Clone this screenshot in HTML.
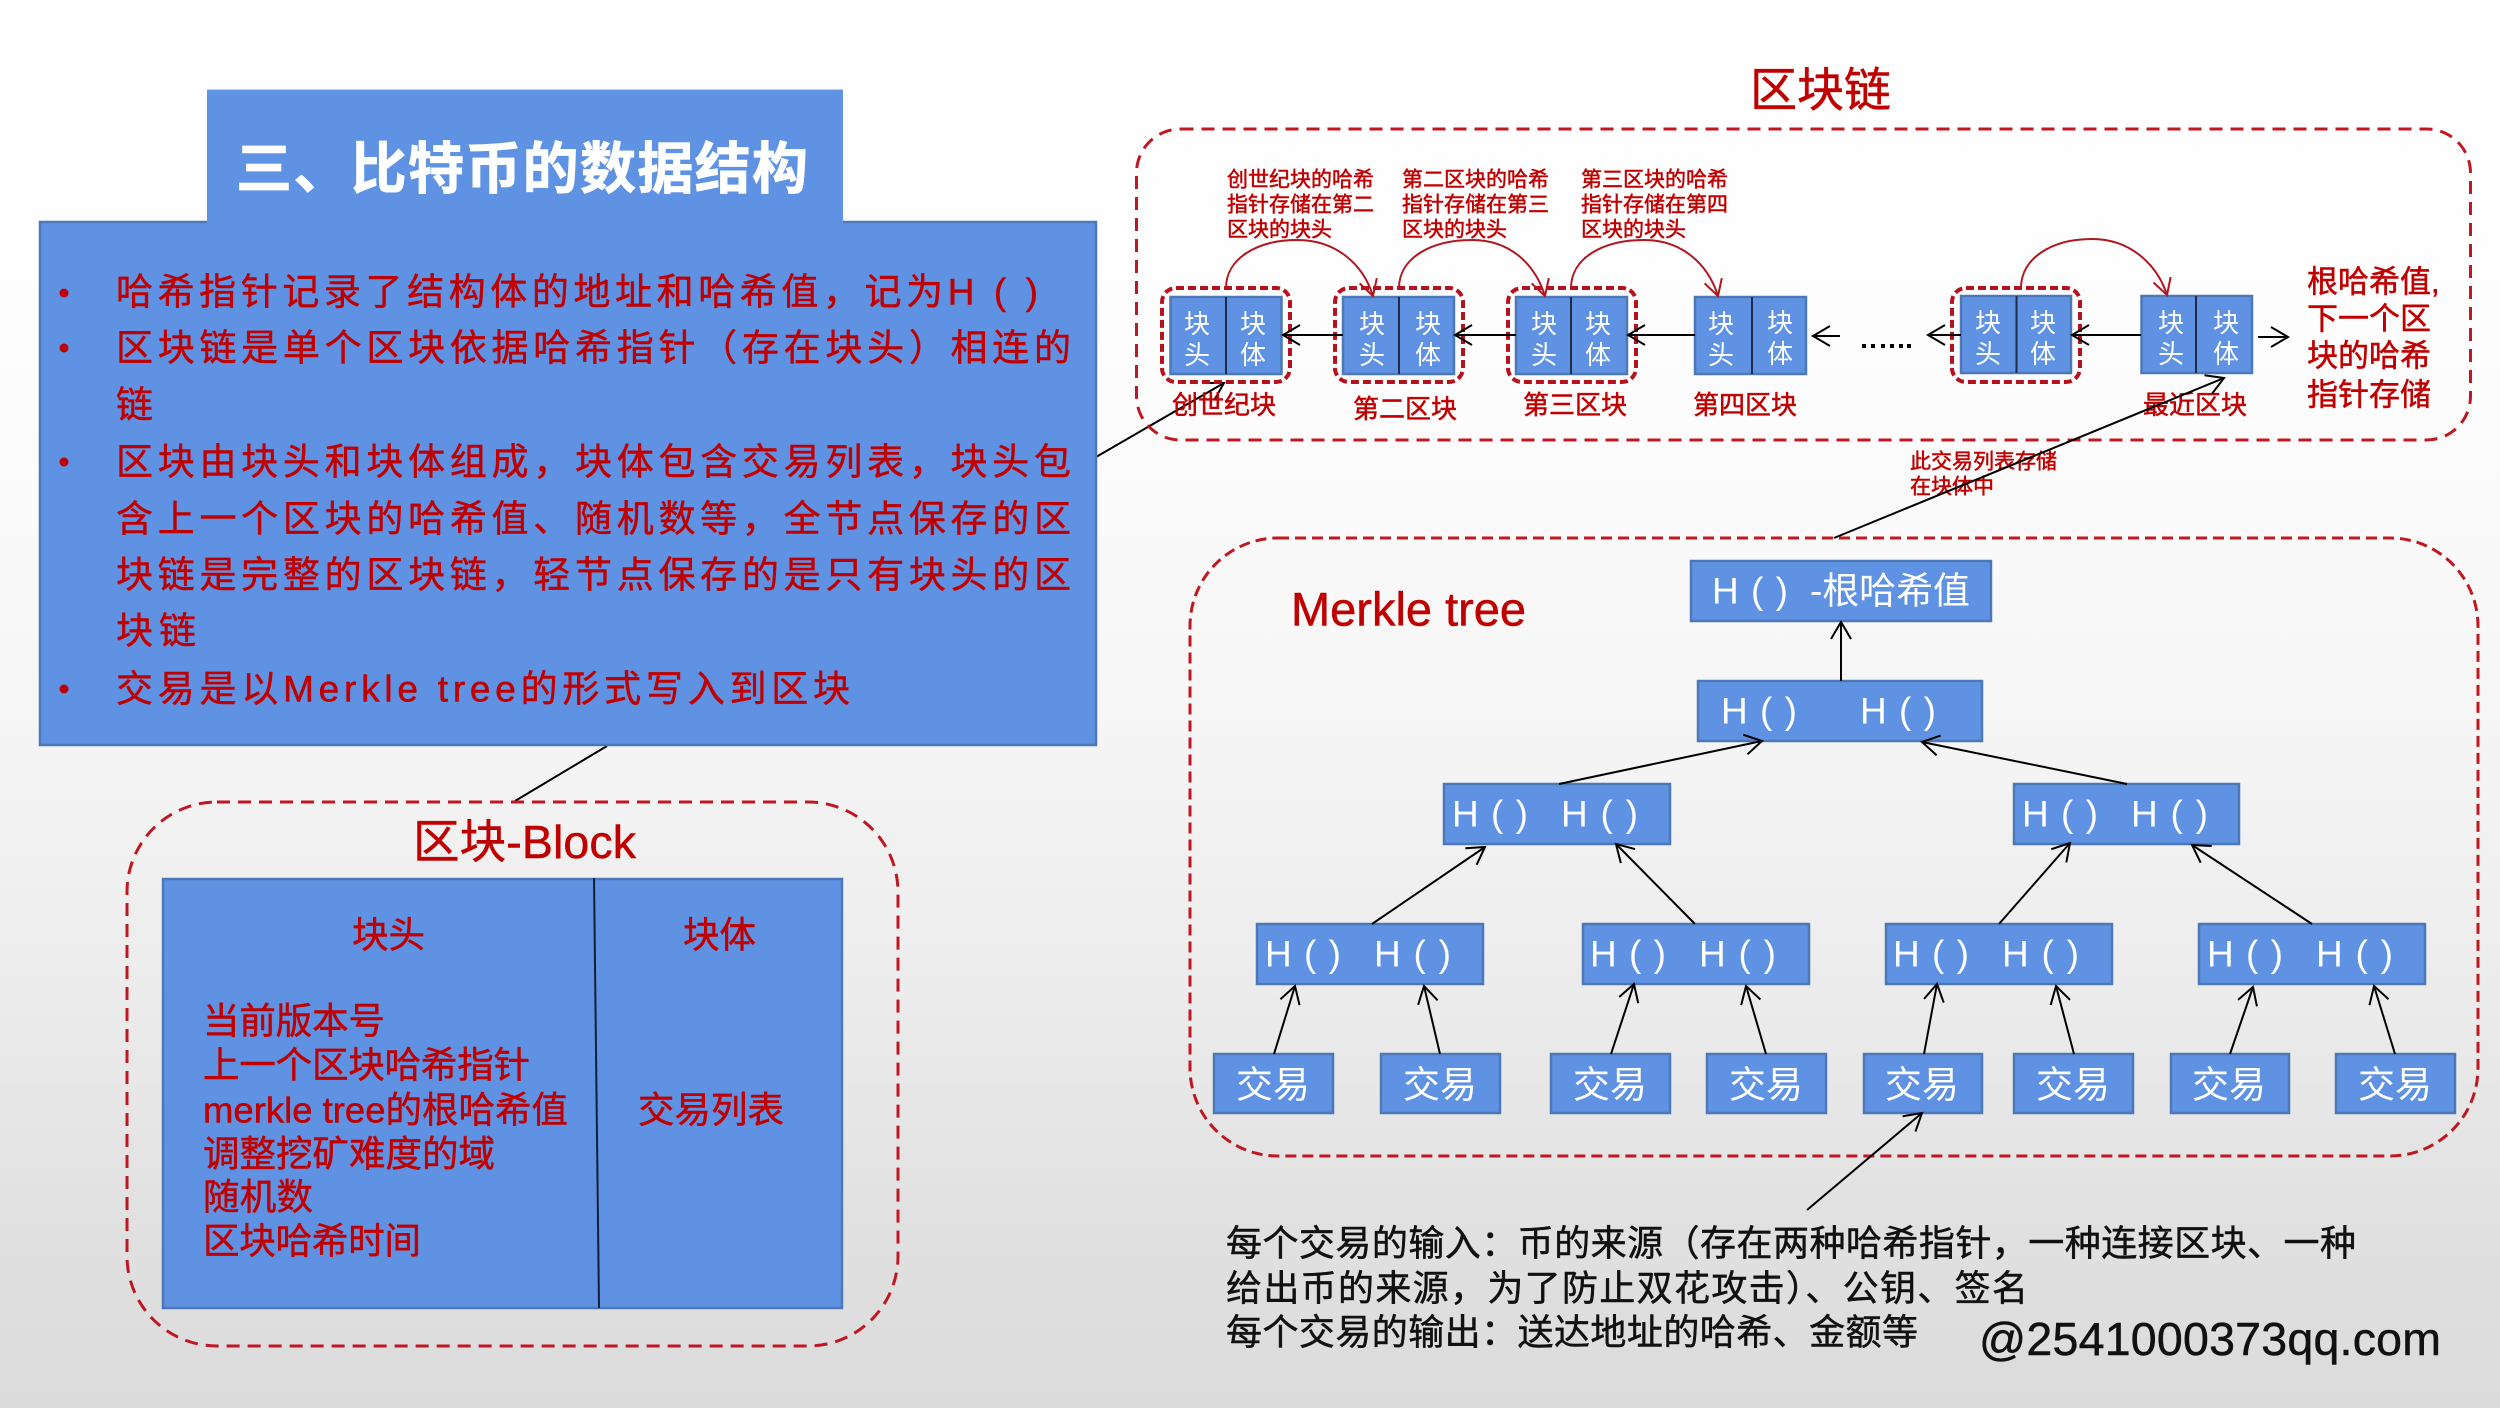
<!DOCTYPE html>
<html lang="zh"><head><meta charset="utf-8"><title>比特币的数据结构</title>
<style>
html,body{margin:0;padding:0;width:2500px;height:1408px;overflow:hidden}
body{background:linear-gradient(180deg,#ffffff 0%,#fdfdfd 25%,#f6f6f6 50%,#ececec 70%,#e0e0e0 88%,#dbdbdb 100%)}
svg{display:block;position:absolute;left:0;top:0}
text{font-family:"Liberation Sans","Noto Sans CJK SC",sans-serif;dominant-baseline:central}
.r{fill:#c00000;stroke:#c00000;stroke-width:.5}
.b{fill:#5f92e3;stroke:#4c78b8;stroke-width:2.5}
.d{fill:none;stroke:#c01823;stroke-width:3;stroke-dasharray:13 8}
.i{fill:none;stroke:#b5121d;stroke-width:4;stroke-dasharray:8 4}
.w{fill:#fff}
.l{stroke:#000;stroke-width:2;fill:none;marker-end:url(#k)}
.n{stroke:#000;stroke-width:2;fill:none}
.c{stroke:#b01720;stroke-width:2;fill:none;marker-end:url(#m)}
.t{font-size:37px}
.u{font-size:21px}
.s{font-size:26px}
.v{font-size:26px}
.h{font-size:37px}
.x{font-size:37px}
.z{font-size:36.5px}
.q{stroke:#222a4a;stroke-width:2}
.kk{stroke:#111;stroke-width:.5}
</style></head><body>
<svg width="2500" height="1408" viewBox="0 0 2500 1408" xmlns="http://www.w3.org/2000/svg">
<defs>
<marker id="k" markerUnits="userSpaceOnUse" viewBox="-20 -12 22 24" refX="0" refY="0" markerWidth="22" markerHeight="24" orient="auto"><path d="M-17 -10L0 0L-17 10" fill="none" stroke="#000" stroke-width="2"/></marker>
<marker id="m" markerUnits="userSpaceOnUse" viewBox="-20 -12 22 24" refX="0" refY="0" markerWidth="22" markerHeight="24" orient="auto"><path d="M-16 -9L0 0L-16 9" fill="none" stroke="#b01720" stroke-width="2"/></marker>
</defs>

<!-- left panel -->
<line class="n" x1="1096" y1="457" x2="1224" y2="383" style="marker-end:url(#k)"/>
<line class="n" x1="607" y1="746" x2="515" y2="801"/>
<rect x="40" y="222" width="1056" height="523" class="b"/>
<rect x="207" y="90" width="636" height="134" fill="#5f92e3"/>
<line x1="207" y1="90" x2="843" y2="90" stroke="#6f9ce3" stroke-width="1"/>
<text x="236" y="169" font-size="56" font-weight="700" fill="#fff" stroke="#fff" stroke-width=".8" textLength="572">三、比特币的数据结构</text>

<g fill="#c00000"><circle cx="64" cy="293" r="4.5"/><circle cx="64" cy="348" r="4.5"/><circle cx="64" cy="462" r="4.5"/><circle cx="64" cy="689" r="4.5"/></g>
<g class="r">
<text class="t" x="116" y="292" textLength="922">哈希指针记录了结构体的地址和哈希值，记为H ( )</text>
<text class="t" x="116" y="348" textLength="955">区块链是单个区块依据哈希指针（存在块头）相连的</text>
<text class="t" x="116" y="405">链</text>
<text class="t" x="116" y="462" textLength="955">区块由块头和块体组成，块体包含交易列表，块头包</text>
<text class="t" x="116" y="519" textLength="955">含上一个区块的哈希值、随机数等，全节点保存的区</text>
<text class="t" x="116" y="575" textLength="955">块链是完整的区块链，轻节点保存的是只有块头的区</text>
<text class="t" x="116" y="631" textLength="80">块链</text>
<text class="t" x="116" y="689" textLength="734">交易是以Merkle tree的形式写入到区块</text>
</g>

<!-- block -->
<rect x="127" y="802" width="771" height="544" rx="90" ry="90" class="d"/>
<text x="413" y="842" font-size="46.5" class="r" textLength="223">区块-Block</text>
<rect x="163" y="879" width="679" height="429" class="b"/>
<line x1="594" y1="878" x2="599" y2="1308" stroke="#10203a" stroke-width="2"/>
<g class="r">
<text class="z" x="352" y="935">块头</text>
<text class="z" x="683" y="935">块体</text>
<text class="z" x="203" y="1021" textLength="182">当前版本号</text>
<text class="z" x="203" y="1065" textLength="327">上一个区块哈希指针</text>
<text class="z" x="203" y="1110" textLength="365">merkle tree的根哈希值</text>
<text class="z" x="203" y="1154" textLength="292">调整挖矿难度的域</text>
<text class="z" x="203" y="1197" textLength="110">随机数</text>
<text class="z" x="203" y="1241" textLength="218">区块哈希时间</text>
<text class="z" x="638" y="1110" textLength="146">交易列表</text>
</g>

<!-- chain -->
<text x="1750" y="90" font-size="47" class="r">区块链</text>
<rect x="1136.5" y="129" width="1334" height="311" rx="44" ry="44" class="d"/>

<g class="r">
<text class="u" x="1227" y="180">创世纪块的哈希</text><text class="u" x="1227" y="205">指针存储在第二</text><text class="u" x="1227" y="230">区块的块头</text>
<text class="u" x="1402" y="180">第二区块的哈希</text><text class="u" x="1402" y="205">指针存储在第三</text><text class="u" x="1402" y="230">区块的块头</text>
<text class="u" x="1581" y="180">第三区块的哈希</text><text class="u" x="1581" y="205">指针存储在第四</text><text class="u" x="1581" y="230">区块的块头</text>
</g>

<rect x="1170.5" y="297" width="111" height="77" class="b"/><line class="q" x1="1226" y1="297" x2="1226" y2="374"/>
<rect x="1343" y="297" width="111" height="77" class="b"/><line class="q" x1="1399" y1="297" x2="1399" y2="374"/>
<rect x="1516" y="297" width="111" height="77" class="b"/><line class="q" x1="1571" y1="297" x2="1571" y2="374"/>
<rect x="1695" y="297" width="111" height="77" class="b"/><line class="q" x1="1752" y1="297" x2="1752" y2="374"/>
<rect x="1961" y="296" width="110" height="77" class="b"/><line class="q" x1="2016.5" y1="296" x2="2016.5" y2="373"/>
<rect x="2141.5" y="296" width="110.5" height="77" class="b"/><line class="q" x1="2196" y1="296" x2="2196" y2="373"/>

<g class="w s" text-anchor="middle">
<text x="1197" y="324">块</text><text x="1197" y="355">头</text><text x="1253" y="324">块</text><text x="1253" y="355">体</text>
<text x="1372" y="324">块</text><text x="1372" y="355">头</text><text x="1428" y="324">块</text><text x="1428" y="355">体</text>
<text x="1544" y="324">块</text><text x="1544" y="355">头</text><text x="1598" y="324">块</text><text x="1598" y="355">体</text>
<text x="1721" y="324">块</text><text x="1721" y="355">头</text><text x="1780" y="323">块</text><text x="1780" y="354">体</text>
<text x="1988" y="323">块</text><text x="1988" y="354">头</text><text x="2043" y="323">块</text><text x="2043" y="354">体</text>
<text x="2171" y="323">块</text><text x="2171" y="354">头</text><text x="2226" y="323">块</text><text x="2226" y="354">体</text>
</g>

<rect x="1162" y="288" width="128" height="94" rx="14" class="i"/>
<rect x="1335" y="288" width="128" height="94" rx="14" class="i"/>
<rect x="1508" y="288" width="128" height="94" rx="14" class="i"/>
<rect x="1952" y="288" width="128" height="94" rx="14" class="i"/>

<line class="l" x1="1343" y1="335" x2="1283" y2="335"/>
<line class="l" x1="1516" y1="335" x2="1455" y2="335"/>
<line class="l" x1="1695" y1="335" x2="1628" y2="335"/>
<line class="l" x1="1840" y1="336" x2="1813" y2="336"/>
<line class="l" x1="1961" y1="335" x2="1928" y2="335"/>
<line class="l" x1="2141" y1="335" x2="2072" y2="335"/>
<line class="l" x1="2258" y1="337" x2="2288" y2="337"/>
<g fill="#000"><rect x="1862" y="344" width="4" height="4"/><rect x="1871" y="344" width="4" height="4"/><rect x="1881" y="344" width="4" height="4"/><rect x="1890" y="344" width="4" height="4"/><rect x="1899" y="344" width="4" height="4"/><rect x="1907" y="344" width="4" height="4"/></g>

<path class="c" d="M1226 288C1226 258 1258 240 1297 240C1336 240 1363 264 1373 296"/>
<path class="c" d="M1399 288C1399 258 1431 240 1472 240C1510 240 1535 264 1545 296"/>
<path class="c" d="M1571 288C1571 258 1603 240 1644 240C1682 240 1708 264 1718 296"/>
<path class="c" d="M2021 288C2021 258 2052 239 2092 239C2130 239 2157 264 2167 295"/>

<g class="r">
<text class="v" x="1172" y="405">创世纪块</text>
<text class="v" x="1353" y="409">第二区块</text>
<text class="v" x="1523" y="405">第三区块</text>
<text class="v" x="1693" y="405">第四区块</text>
<text class="v" x="2143" y="405">最近区块</text>
<text font-size="31" x="2307" y="282">根哈希值,</text>
<text font-size="31" x="2307" y="319">下一个区</text>
<text font-size="31" x="2307" y="356">块的哈希</text>
<text font-size="31" x="2307" y="395">指针存储</text>
<text class="u" x="1910" y="462">此交易列表存储</text>
<text class="u" x="1910" y="487">在块体中</text>
</g>
<line class="l" x1="1834" y1="538" x2="2224" y2="378"/>

<!-- merkle -->
<rect x="1190" y="538" width="1288" height="618" rx="88" ry="88" class="d" style="stroke-dasharray:11 6"/>
<text x="1291" y="609" font-size="47" class="r">Merkle tree</text>

<rect x="1691" y="561" width="300" height="60" class="b"/>
<rect x="1698" y="681" width="284" height="60" class="b"/>
<rect x="1444" y="784" width="226" height="60" class="b"/>
<rect x="2014" y="784" width="225" height="60" class="b"/>
<rect x="1257" y="924" width="226" height="60" class="b"/>
<rect x="1583" y="924" width="226" height="60" class="b"/>
<rect x="1886" y="924" width="226" height="60" class="b"/>
<rect x="2199" y="924" width="226" height="60" class="b"/>
<rect x="1214" y="1054" width="119" height="59" class="b"/>
<rect x="1381" y="1054" width="119" height="59" class="b"/>
<rect x="1551" y="1054" width="119" height="59" class="b"/>
<rect x="1707" y="1054" width="119" height="59" class="b"/>
<rect x="1864" y="1054" width="118" height="59" class="b"/>
<rect x="2014" y="1054" width="119" height="59" class="b"/>
<rect x="2171" y="1054" width="118" height="59" class="b"/>
<rect x="2336" y="1054" width="119" height="59" class="b"/>

<g class="w">
<text class="h" x="1712" y="591" textLength="76">H ( )</text>
<text class="h" x="1810" y="591" textLength="160">-根哈希值</text>
<text class="h" x="1721" y="711" textLength="76">H ( )</text>
<text class="h" x="1860" y="711" textLength="76">H ( )</text>
<text class="h" x="1452" y="814" textLength="76">H ( )</text><text class="h" x="1561" y="814" textLength="77">H ( )</text>
<text class="h" x="2022" y="814" textLength="76">H ( )</text><text class="h" x="2131" y="814" textLength="77">H ( )</text>
<text class="h" x="1265" y="954" textLength="76">H ( )</text><text class="h" x="1374" y="954" textLength="77">H ( )</text>
<text class="h" x="1590" y="954" textLength="76">H ( )</text><text class="h" x="1699" y="954" textLength="77">H ( )</text>
<text class="h" x="1893" y="954" textLength="76">H ( )</text><text class="h" x="2002" y="954" textLength="77">H ( )</text>
<text class="h" x="2207" y="954" textLength="76">H ( )</text><text class="h" x="2316" y="954" textLength="77">H ( )</text>
<g text-anchor="middle">
<text class="x" x="1273" y="1085">交易</text><text class="x" x="1440" y="1085">交易</text>
<text class="x" x="1610" y="1085">交易</text><text class="x" x="1766" y="1085">交易</text>
<text class="x" x="1922" y="1085">交易</text><text class="x" x="2073" y="1085">交易</text>
<text class="x" x="2229" y="1085">交易</text><text class="x" x="2395" y="1085">交易</text>
</g>
</g>

<line class="l" x1="1841" y1="681" x2="1841" y2="622"/>
<line class="l" x1="1559" y1="784" x2="1762" y2="741"/>
<line class="l" x1="2127" y1="784" x2="1922" y2="742"/>
<line class="l" x1="1372" y1="924" x2="1485" y2="847"/>
<line class="l" x1="1695" y1="924" x2="1616" y2="844"/>
<line class="l" x1="1999" y1="924" x2="2070" y2="843"/>
<line class="l" x1="2312" y1="924" x2="2192" y2="845"/>
<line class="l" x1="1274" y1="1054" x2="1295" y2="986"/>
<line class="l" x1="1440" y1="1054" x2="1424" y2="986"/>
<line class="l" x1="1611" y1="1054" x2="1634" y2="984"/>
<line class="l" x1="1766" y1="1054" x2="1746" y2="986"/>
<line class="l" x1="1924" y1="1054" x2="1937" y2="984"/>
<line class="l" x1="2074" y1="1054" x2="2056" y2="986"/>
<line class="l" x1="2230" y1="1054" x2="2253" y2="987"/>
<line class="l" x1="2395" y1="1054" x2="2374" y2="986"/>
<line class="l" x1="1807" y1="1210" x2="1922" y2="1113"/>

<g fill="#111" class="kk">
<text font-size="36" x="1226" y="1243" textLength="1130">每个交易的输入：币的来源（存在两种哈希指针，一种连接区块、一种</text>
<text font-size="36" x="1226" y="1288" textLength="802">给出币的来源，为了防止双花攻击）、公钥、签名</text>
<text font-size="36" x="1226" y="1332" textLength="692">每个交易的输出：送达地址的哈希、金额等</text>
<text font-size="46.5" x="1979" y="1339" textLength="462">@2541000373qq.com</text>
</g>
</svg>
</body></html>
